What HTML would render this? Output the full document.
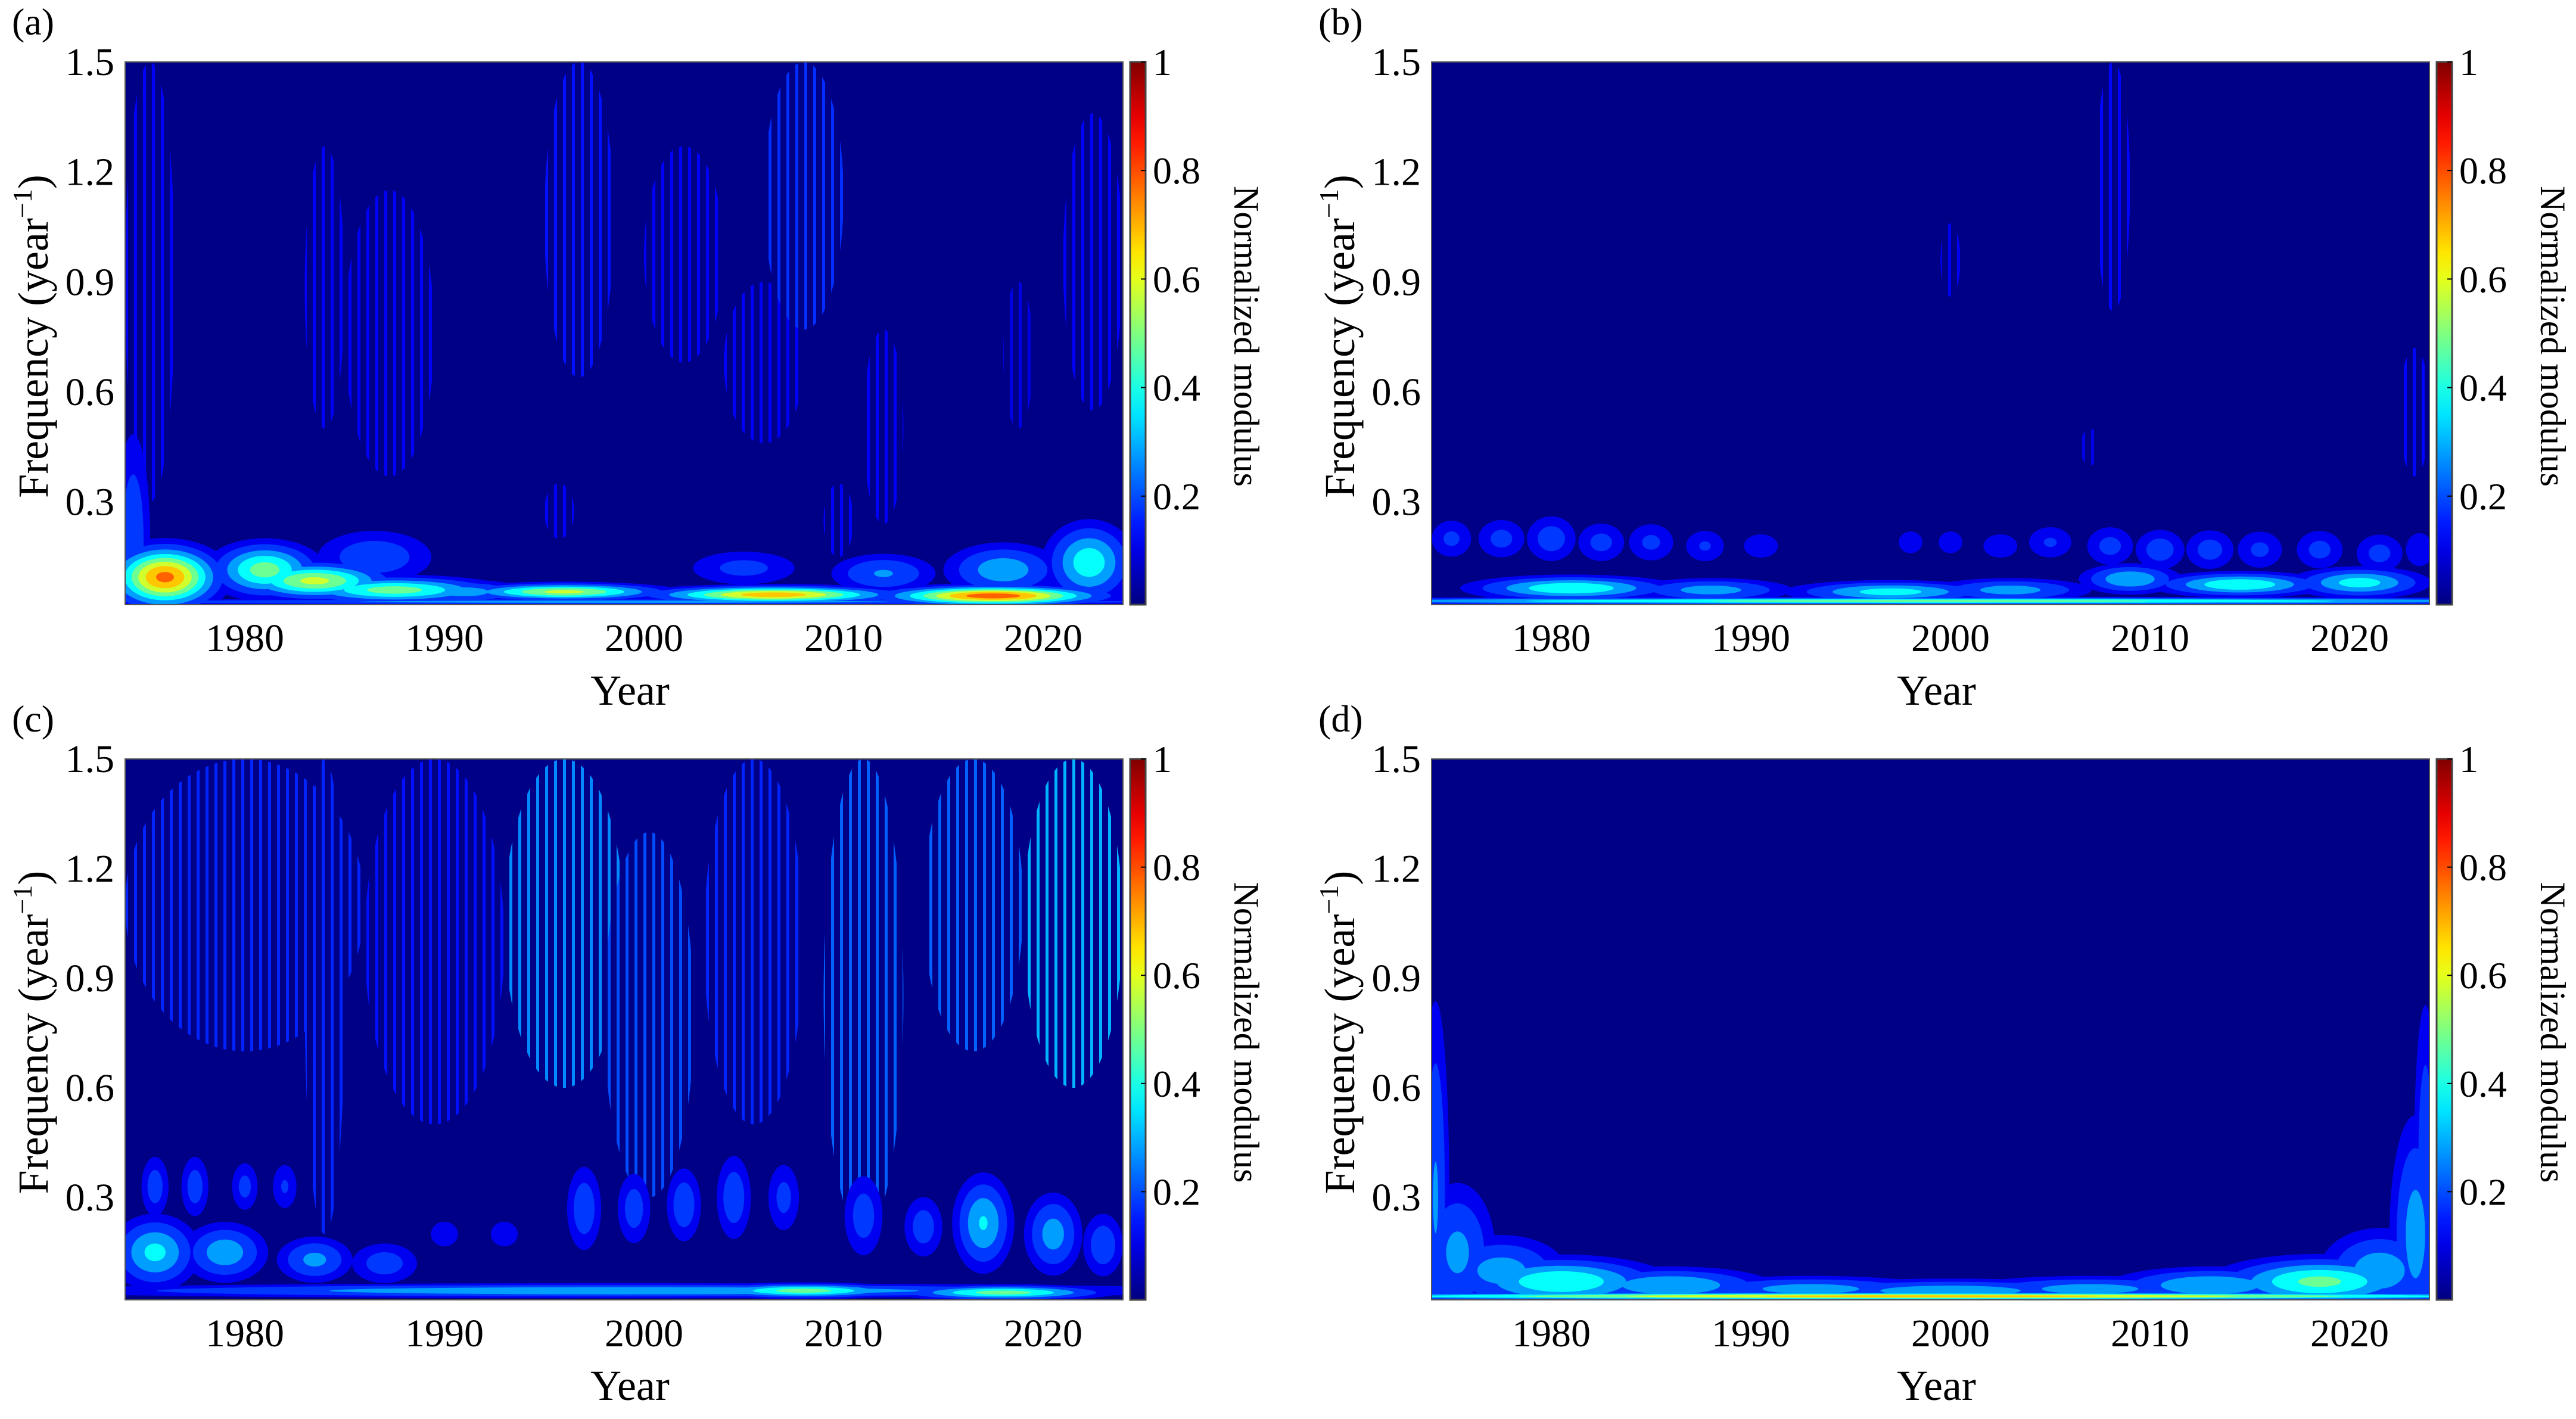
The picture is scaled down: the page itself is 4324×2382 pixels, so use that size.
<!DOCTYPE html>
<html><head><meta charset="utf-8"><title>Wavelet spectra</title>
<style>html,body{margin:0;padding:0;background:#fff}svg{display:block}text{font-family:"Liberation Serif",serif;fill:#000}</style>
</head><body>
<svg id="fig" width="4324" height="2382" viewBox="0 0 4324 2382" xmlns="http://www.w3.org/2000/svg"></svg>
<script>
// ---- data: x ticks, y ticks, colorbar ticks ----
const xTicks = [1980, 1990, 2000, 2010, 2020];
const yTicks = [0.3, 0.6, 0.9, 1.2, 1.5];
const yTickLabels = ["0.3", "0.6", "0.9", "1.2", "1.5"];
const cbTicks = [0.2, 0.4, 0.6, 0.8, 1];
const cbTickLabels = ["0.2", "0.4", "0.6", "0.8", "1"];
const yearRange = [1974, 2024];
const freqRange = [0.02, 1.5];
const contourLevels = [0.08, 0.15, 0.25, 0.35, 0.45, 0.55, 0.65, 0.75, 0.85];

// blobs: [year, freq, sigmaYear, sigmaFreq, peak]
const aBlobs = [
 [1976,0.095,1.6,0.05,0.78],[1974.4,0.2,0.6,0.2,0.22],[1981,0.115,1.6,0.045,0.5],[1983.5,0.085,2.2,0.03,0.58],
 [1987.5,0.06,3,0.022,0.5],[1986.5,0.15,2,0.05,0.22],[1996,0.055,3,0.014,0.58],[1991,0.055,2,0.02,0.3],
 [2006.5,0.047,3.6,0.014,0.72],[2005,0.12,2,0.035,0.18],[2012,0.105,1.7,0.035,0.26],[2017.5,0.044,3.2,0.016,0.82],
 [2018,0.115,1.8,0.045,0.32],[2022.3,0.135,1.3,0.065,0.42],[1999,0.028,22,0.005,0.3]
];
const aStreaks = [ // [yearStart, yearEnd, fLow, fHigh, value]
 [1974,1976.5,0.3,1.5,0.12],[1983,1985,0.5,1.27,0.12],[1985,1989.5,0.37,1.15,0.12],[1995,1998.5,0.64,1.5,0.14],
 [2000,2004,0.68,1.27,0.12],[2004,2008,0.46,0.9,0.12],[2006,2010,0.77,1.5,0.17],[2011,2013,0.24,0.77,0.12],
 [2018,2019.5,0.5,0.9,0.1],[2021,2024,0.55,1.36,0.12],[1995,1996.5,0.2,0.35,0.12],[2009,2010.5,0.15,0.35,0.12]
];
const bBlobs = [
 [1975,0.2,0.8,0.04,0.17],[1977.5,0.2,0.9,0.04,0.18],[1980,0.2,0.9,0.045,0.2],[1982.5,0.19,0.9,0.04,0.18],
 [1985,0.19,0.9,0.04,0.17],[1987.7,0.18,0.8,0.035,0.16],[1990.5,0.18,0.8,0.03,0.14],[1998,0.19,0.6,0.03,0.13],
 [2000,0.19,0.6,0.03,0.13],[2002.5,0.18,0.8,0.03,0.14],[2005,0.19,0.9,0.035,0.16],[2008,0.18,0.9,0.04,0.18],
 [2010.5,0.17,0.9,0.04,0.2],[2013,0.17,0.9,0.04,0.19],[2015.5,0.17,0.9,0.04,0.17],[2018.5,0.17,0.9,0.04,0.18],
 [2021.5,0.16,0.9,0.04,0.18],[2023.5,0.17,0.6,0.04,0.15],
 [1981,0.065,3,0.02,0.45],[1988,0.06,2.5,0.02,0.3],[1997,0.055,3,0.018,0.4],[2003,0.06,2.5,0.02,0.3],
 [2009,0.09,1.5,0.025,0.35],[2014.5,0.075,2.5,0.02,0.45],[2020.5,0.08,2,0.025,0.4],[1999,0.03,24,0.006,0.5]
];
const bStreaks = [
 [2007.3,2009,0.82,1.5,0.13],[1999.5,2000.5,0.86,1.06,0.11],[2022.5,2024,0.37,0.72,0.13],[2006.5,2007.5,0.4,0.5,0.1]
];
const cBlobs = [
 [1975.5,0.15,1.3,0.06,0.38],[1979,0.15,1.3,0.05,0.32],[1983.5,0.13,1.2,0.04,0.28],[1987,0.12,1.2,0.04,0.2],
 [1975.5,0.33,0.5,0.06,0.2],[1977.5,0.33,0.5,0.06,0.2],[1980,0.33,0.5,0.05,0.18],[1982,0.33,0.5,0.05,0.16],
 [1990,0.2,0.6,0.03,0.15],[1993,0.2,0.6,0.03,0.15],[1997,0.27,0.6,0.08,0.22],[1999.5,0.27,0.6,0.07,0.2],
 [2002,0.28,0.6,0.07,0.22],[2004.5,0.3,0.6,0.08,0.22],[2007,0.3,0.6,0.07,0.18],[2011,0.25,0.7,0.08,0.2],
 [2014,0.22,0.7,0.06,0.2],[2017,0.23,0.9,0.08,0.36],[2020.5,0.2,0.9,0.07,0.3],[2023,0.17,0.7,0.06,0.22],
 [1999,0.045,18,0.012,0.35],[2008,0.045,3,0.012,0.5],[2018,0.04,3,0.012,0.5]
];
const cStreaks = [
 [1974,1986,0.7,1.5,0.16],[1983,1985,0.2,1.5,0.16],[1986,1993,0.5,1.5,0.14],[1993,1999,0.6,1.5,0.26],
 [1998,2002.5,0.3,1.3,0.2],[2003,2008,0.5,1.5,0.16],[2009,2013,0.2,1.5,0.22],[2014,2019,0.7,1.5,0.22],
 [2019,2024,0.6,1.5,0.3]
];
const dBlobs = [
 [1974.2,0.3,0.45,0.35,0.26],[1975.3,0.15,1.2,0.12,0.28],[1977.5,0.1,2,0.06,0.3],[1980.5,0.07,3,0.04,0.45],
 [1986,0.06,3,0.03,0.35],[1993,0.05,4,0.022,0.3],[2000,0.045,5,0.02,0.32],[2007,0.05,4,0.022,0.3],
 [2013,0.06,3,0.03,0.35],[2018.5,0.07,3,0.04,0.48],[2021.5,0.1,1.8,0.07,0.32],[2023.3,0.2,0.8,0.2,0.3],
 [2023.8,0.4,0.4,0.3,0.22],[1999,0.03,22,0.006,0.7]
];
const dStreaks = [];

const SVGNS = "http://www.w3.org/2000/svg";
const svg = document.getElementById('fig');
function mk(tag, attrs, parent) {
  const e = document.createElementNS(SVGNS, tag);
  for (const k in attrs) e.setAttribute(k, attrs[k]);
  (parent || svg).appendChild(e);
  return e;
}
function jet(t) {
  const c = v => Math.round(255 * Math.max(0, Math.min(1, v)));
  return `rgb(${c(1.5-Math.abs(4*t-3))},${c(1.5-Math.abs(4*t-2))},${c(1.5-Math.abs(4*t-1))})`;
}
const BG = '#000086';

const panels = [
 {id:'a', x0:210, x1:1885, y0:104, y1:1015, cb:1897, blobs:aBlobs, streaks:aStreaks},
 {id:'b', x0:2403, x1:4078, y0:104, y1:1015, cb:4090, blobs:bBlobs, streaks:bStreaks},
 {id:'c', x0:210, x1:1885, y0:1274, y1:2182, cb:1897, blobs:cBlobs, streaks:cStreaks},
 {id:'d', x0:2403, x1:4078, y0:1274, y1:2182, cb:4090, blobs:dBlobs, streaks:dStreaks}
];

const defs = mk('defs', {});
let patId = 0;

panels.forEach(p => {
  const xS = yr => p.x0 + (yr - yearRange[0]) / (yearRange[1]-yearRange[0]) * (p.x1 - p.x0);
  const yS = f => p.y1 - (f - freqRange[0]) / (freqRange[1]-freqRange[0]) * (p.y1 - p.y0);
  const pxYear = (p.x1 - p.x0) / (yearRange[1]-yearRange[0]);
  const pxFreq = (p.y1 - p.y0) / (freqRange[1]-freqRange[0]);

  const g = mk('g', {});
  
  

  const cp = mk('clipPath', {id:'clip-'+p.id}, defs);
  mk('rect', {x:p.x0, y:p.y0, width:p.x1-p.x0, height:p.y1-p.y0}, cp);

  const plot = mk('g', {'clip-path':'url(#clip-'+p.id+')'}, g);
  
  
  mk('rect', {x:p.x0, y:p.y0, width:p.x1-p.x0, height:p.y1-p.y0, fill:BG}, plot);

  p.streaks.forEach(s => {
    const id = 'pat' + (patId++);
    const pat = mk('pattern', {id:id, patternUnits:'userSpaceOnUse', width:15, height:20}, defs);
    mk('rect', {x:0, y:0, width:15, height:20, fill:BG}, pat);
    mk('rect', {x:0, y:0, width:5, height:20, fill:jet(s[4])}, pat);
    const cx = xS((s[0]+s[1])/2), cy = yS((s[2]+s[3])/2);
    const rx = (s[1]-s[0])/2*pxYear, ry = (s[3]-s[2])/2*pxFreq;
    const el = mk('ellipse', {cx:cx, cy:cy, rx:rx, ry:ry, fill:'url(#'+id+')'}, plot);
    
    
  });

  contourLevels.forEach(L => {
    p.blobs.forEach(b => {
      if (b[4] <= L) return;
      const k = Math.sqrt(2 * Math.log(b[4] / L));
      const el = mk('ellipse', {cx:xS(b[0]), cy:yS(b[1]), rx:b[2]*k*pxYear, ry:Math.max(1.5, b[3]*k*pxFreq), fill:jet(L+0.03)}, plot);
      
      
    });
  });

  const frame = mk('rect', {x:p.x0, y:p.y0, width:p.x1-p.x0, height:p.y1-p.y0, fill:'none', stroke:'#555', 'stroke-width':2}, g);
  
  

  xTicks.forEach(t => {
    const tx = mk('text', {x:xS(t), y:p.y1+78, 'font-size':66, 'text-anchor':'middle'}, g);
    tx.textContent = t;
    
    
  });
  yTicks.forEach((t, i) => {
    const tx = mk('text', {x:p.x0-18, y:yS(t)+22, 'font-size':66, 'text-anchor':'end'}, g);
    tx.textContent = yTickLabels[i];
    
    
  });
  const xt = mk('text', {x:(p.x0+p.x1)/2 + 10, y:p.y1+168, 'font-size':72, 'text-anchor':'middle'}, g);
  xt.textContent = 'Year';
  
  

  const ycx = p.x0 - 155, ycy = (p.y0+p.y1)/2 + 5;
  const yt = mk('text', {x:ycx, y:ycy, 'font-size':72, 'text-anchor':'middle', transform:`rotate(-90 ${ycx} ${ycy})`, dy:25}, g);
  yt.innerHTML = 'Frequency (year<tspan font-size="46" dy="-27">−1</tspan><tspan dy="27">)</tspan>';
  
  

  const lbl = mk('text', {x:p.x0-190, y:p.y0-46, 'font-size':64}, g);
  lbl.textContent = '(' + p.id + ')';
  
  

  const gid = 'cbg-' + p.id;
  const lg = mk('linearGradient', {id:gid, x1:0, y1:1, x2:0, y2:0}, defs);
  for (let i = 0; i <= 20; i++) mk('stop', {offset:i/20, 'stop-color':jet(i/20)}, lg);
  const cbw = 26;
  const cb = mk('rect', {x:p.cb, y:p.y0, width:cbw, height:p.y1-p.y0, fill:'url(#'+gid+')', stroke:'#444', 'stroke-width':3}, g);
  
  
  const cbY = v => p.y1 - v * (p.y1 - p.y0);
  cbTicks.forEach((t, i) => {
    mk('line', {x1:p.cb+cbw-8, x2:p.cb+cbw, y1:cbY(t), y2:cbY(t), stroke:'#000', 'stroke-width':2}, g);
    const tx = mk('text', {x:p.cb+cbw+12, y:cbY(t)+22, 'font-size':64}, g);
    tx.textContent = cbTickLabels[i];
    
    
  });
  const lx = p.cb + 175, ly = (p.y0+p.y1)/2 + 5;
  const ct = mk('text', {x:lx, y:ly, 'font-size':60, 'text-anchor':'middle', transform:`rotate(90 ${lx} ${ly})`}, g);
  ct.textContent = 'Normalized modulus';
  
  
});
</script>
</body></html>
